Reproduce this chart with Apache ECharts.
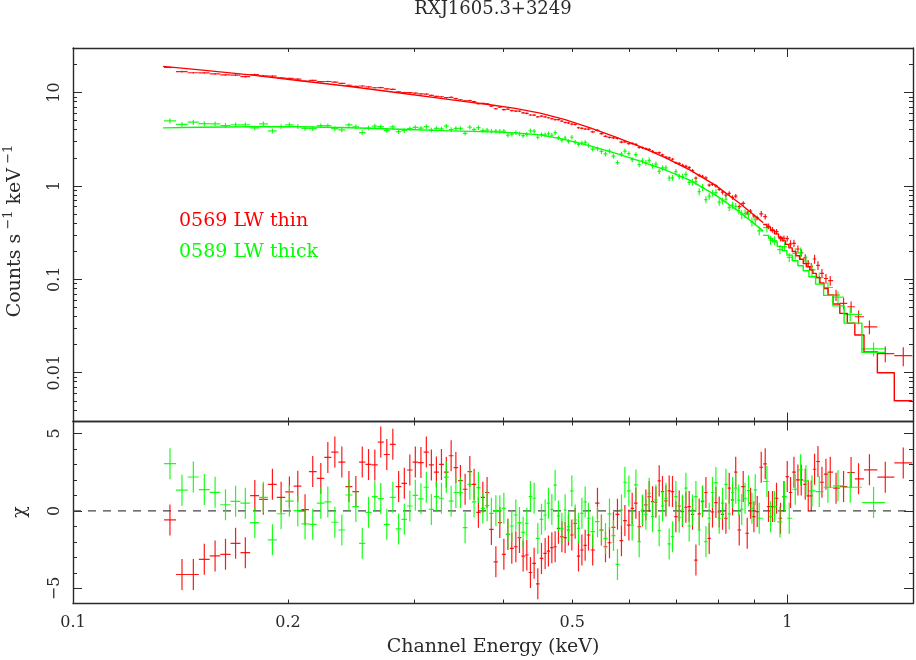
<!DOCTYPE html>
<html><head><meta charset="utf-8">
<script src="https://cdn.jsdelivr.net/npm/echarts@6/dist/echarts.min.js"></script>
<style>html,body{margin:0;padding:0;background:#fff}#c{width:916px;height:660px}</style>
</head><body><div id="c"></div>
<script>
// ---------- DATA ----------
// bin centres (keV) shared by both spectra
const sharedE = [
0.1367,0.1421,0.1474,0.1527,0.1581,0.1635,0.1689,0.1743,0.1797,0.1847,
0.1902,0.1956,0.2009,0.2064,0.2113,0.2166,0.2223,0.2274,0.2326,0.2379,
0.2434,0.2489,0.2541,0.2593,0.2646,0.2697,0.2750,0.2804,0.2857,0.2910,
0.2962,0.3015,0.3070,0.3124,0.3175,0.3227,0.3280,0.3332,0.3384,0.3436,
0.3487,0.3540,0.3594,0.3644,0.3695,0.3748,0.3800,0.3853,0.3909,0.3959,
0.4011,0.4063,0.4115,0.4169,0.4218,0.4268,0.4319,0.4370,0.4422,0.4475,
0.4528,0.4582,0.4631,0.4682,0.4732,0.4783,0.4836,0.4887,0.4940,0.4994,
0.5048,0.5102,0.5158,0.5213,0.5269,0.5341,0.5424,0.5494,0.5566,0.5638,
0.5711,0.5785,0.5860,0.5925,0.6002,0.6066,0.6139,0.6205,0.6271,0.6340,
0.6408,0.6477,0.6548,0.6618,0.6689,0.6763,0.6835,0.6908,0.6984,0.7059,
0.7134,0.7213,0.7290,0.7368,0.7450,0.7529,0.7610,0.7694,0.7776,0.7859,
0.7946,0.8031,0.8117,0.8206,0.8294,0.8383,0.8470];
const redExtraE = [0.8566,0.8677,0.8790,0.8884,0.8982,0.9078,0.9196,0.9315,0.9415,0.9537,
0.9661,0.9786,0.9894,1.0000,1.0107,1.0219,1.0351,1.0462,1.0598,1.0701,1.0805,1.0921,1.1041,
1.1184,1.1329,1.1487,1.1704,1.1991,1.2285,1.2585,1.3035,1.3718,1.4537];
const greenExtraE = [0.8552,0.8635,0.8728,0.8827,0.8924,0.9020,0.9137,0.9366,0.9476,0.9599,
0.9767,0.9913,1.0065,1.0262,1.0439,1.0622,1.0830,1.1088,1.1402,1.1777,1.2253,1.3209];

// 0569 LW thin (red): counts s^-1 keV^-1, fractional errors, residuals (chi)
const redCts = [
18.55,16.74,16.30,16.21,15.86,15.50,15.36,14.81,15.57,15.11,
15.01,14.40,14.16,13.92,13.23,13.51,13.10,13.14,12.95,12.54,
11.97,11.63,11.76,11.49,11.25,11.31,10.93,10.84,10.15,9.99,
9.96,9.86,9.67,9.62,9.33,9.10,9.02,8.81,8.88,8.63,
8.37,8.16,8.22,7.99,7.61,7.64,7.59,7.14,6.71,6.96,
6.56,6.63,6.41,6.32,6.31,6.06,5.98,5.75,5.74,5.50,
5.60,5.48,5.37,5.25,5.13,5.13,4.95,4.78,4.73,4.58,
4.55,4.20,4.14,4.07,4.05,3.80,3.94,3.63,3.40,3.31,
3.27,3.22,2.95,2.97,2.84,2.85,2.78,2.58,2.57,2.51,
2.46,2.35,2.26,2.27,2.15,2.03,2.00,1.93,1.77,1.74,
1.66,1.62,1.57,1.46,1.21,1.30,1.27,1.22,1.02,1.04,
1.00,0.92,0.858,0.795,0.831,0.753,0.778,0.599,0.649,0.512,
0.537,0.478,0.455,0.503,0.469,0.369,0.339,0.324,0.273,0.275,
0.273,0.240,0.243,0.211,0.193,0.170,0.148,0.137,0.165,0.141,
0.116,0.102,0.097,0.0679,0.0553,0.0508,0.0397,0.031,0.016,0.0152];
const redRel = [
0.02,0.02,0.02,0.02,0.02,0.02,0.02,0.02,0.02,0.02,
0.02,0.02,0.02,0.02,0.018,0.018,0.018,0.018,0.018,0.018,
0.018,0.018,0.018,0.018,0.018,0.018,0.018,0.018,0.018,0.018,
0.018,0.018,0.018,0.018,0.018,0.018,0.018,0.018,0.02,0.02,
0.02,0.02,0.02,0.02,0.02,0.02,0.02,0.02,0.02,0.02,
0.02,0.02,0.02,0.02,0.02,0.02,0.02,0.02,0.02,0.02,
0.02,0.02,0.02,0.02,0.02,0.02,0.02,0.025,0.025,0.025,
0.025,0.025,0.025,0.025,0.025,0.025,0.025,0.025,0.025,0.025,
0.025,0.025,0.03,0.03,0.03,0.03,0.03,0.03,0.03,0.03,
0.03,0.03,0.03,0.03,0.03,0.03,0.03,0.03,0.03,0.03,
0.04,0.04,0.04,0.04,0.04,0.04,0.04,0.04,0.04,0.04,
0.04,0.04,0.055,0.055,0.055,0.055,0.055,0.055,0.055,0.055,
0.055,0.055,0.055,0.07,0.07,0.07,0.07,0.07,0.07,0.07,
0.07,0.09,0.09,0.09,0.09,0.09,0.09,0.09,0.11,0.11,
0.11,0.12,0.12,0.14,0.14,0.14,0.17,0.17,0.19,0.23];
const redChi = [
-0.58,-4.1,-4.1,-3.12,-2.9,-2.8,-2.09,-2.69,0.99,0.75,
1.72,0.88,1.23,1.6,0.08,2.54,2.1,3.45,3.8,3.15,
1.57,1.25,3.15,3.0,2.97,4.44,3.64,4.3,1.57,1.78,
2.64,3.15,3.12,3.8,2.97,2.51,3.0,2.5,3.56,2.8,
1.96,1.4,2.54,1.72,-0.09,0.88,1.19,-1.19,-3.28,-0.75,
-2.8,-1.51,-2.41,-2.31,-1.72,-2.91,-2.84,-3.97,-3.38,-4.7,
-3.06,-2.74,-2.59,-2.37,-2.31,-1.12,-1.66,-1.72,-1.23,-1.55,
-0.8,-2.91,-2.52,-2.22,-1.55,-2.52,0.5,-1.23,-2.31,-2.05,
-1.06,-0.22,-1.92,-0.62,-0.91,0.17,0.5,-1.01,0,0.39,
0.93,0.6,0.56,1.94,1.25,0.65,1.29,1.25,-0.37,0.32,
-0.04,0.24,0.28,-0.22,-3.17,-0.19,0.6,1.19,-1.77,-0.06,
0.54,-0.06,-0.22,-0.47,1.47,0.71,2.5,-1.23,1.57,-1.44,
0.5,-0.37,-0.04,2.82,3.04,0.28,0.28,0.82,-0.47,0.93,
2.22,1.19,2.5,2.0,2.0,1.72,0.97,0.97,2.69,3.19,
1.85,2.37,2.5,1.47,1.57,2.48,2.07,2.65,2.18,3.1];
// red model: smooth part (keV, counts) and binned part (last bins)
const redModelE = [0.1337,0.1506,0.1770,0.2080,0.2443,0.2871,0.3373,0.3837,0.4160,0.4509,
0.4887,0.5298,0.5742,0.6225,0.6748,0.7314,0.7928,0.8594,0.9256];
const redModelC = [19.09,17.51,15.48,13.40,11.59,9.88,8.41,7.40,6.77,6.02,
5.13,4.18,3.35,2.634,2.008,1.475,1.019,0.645,0.4027];
const redModelBins = [0.3867,0.3618,0.3327,0.3066,0.2819,0.2580,0.2366,0.2171,0.1986,0.1786,
0.1638,0.1476,0.1365,0.1261,0.1156,0.1045,0.0913,0.0797,0.0679,0.0543,0.0432,0.0338,0.0253,0.0167,0.0100,0.0050];

// 0589 LW thick (green)
const greenCts = [
4.97,4.57,4.82,4.64,4.62,4.44,4.52,4.52,4.19,4.61,
3.88,4.31,4.51,4.33,4.12,4.11,4.42,4.42,4.11,3.98,
4.50,4.30,3.73,4.17,4.38,4.32,3.92,4.29,3.81,3.93,
4.10,4.23,4.16,4.31,3.97,4.14,4.09,4.37,4.02,4.14,
4.14,3.66,4.25,4.01,4.21,3.92,3.96,3.85,3.87,3.85,
3.86,3.49,3.59,3.72,3.60,3.46,3.56,3.90,3.86,3.32,
3.54,3.53,3.62,3.49,3.72,3.29,3.09,3.26,3.00,3.32,
2.94,2.79,2.88,2.93,2.71,2.48,2.50,2.34,2.20,2.36,
2.09,1.78,2.19,2.36,2.22,1.91,2.16,1.69,1.86,1.77,
1.88,1.64,1.71,1.43,1.56,1.56,1.21,1.22,1.42,1.26,
1.26,1.33,1.09,1.10,1.11,0.868,0.964,0.715,0.778,0.841,
0.850,0.670,0.691,0.720,0.587,0.623,0.605,
0.543,0.495,0.506,0.498,0.413,0.435,0.330,0.357,0.263,0.260,0.208,0.224,0.172,
0.189,0.192,0.157,0.126,0.104,0.0817,0.0645,0.0422,0.0180];
const greenRel = [
0.06,0.06,0.06,0.06,0.06,0.06,0.06,0.06,0.06,0.06,
0.06,0.06,0.06,0.06,0.055,0.055,0.055,0.055,0.055,0.055,
0.055,0.055,0.055,0.055,0.055,0.055,0.055,0.055,0.055,0.055,
0.055,0.055,0.055,0.055,0.055,0.055,0.055,0.055,0.055,0.055,
0.055,0.055,0.055,0.055,0.055,0.055,0.055,0.055,0.055,0.055,
0.055,0.055,0.055,0.055,0.055,0.055,0.055,0.055,0.055,0.055,
0.055,0.055,0.055,0.055,0.055,0.055,0.055,0.055,0.055,0.055,
0.055,0.055,0.055,0.055,0.055,0.06,0.06,0.06,0.06,0.06,
0.06,0.06,0.06,0.06,0.06,0.06,0.06,0.06,0.07,0.07,
0.07,0.07,0.07,0.07,0.07,0.07,0.07,0.07,0.07,0.07,
0.07,0.07,0.07,0.085,0.085,0.085,0.085,0.085,0.085,0.085,
0.085,0.085,0.085,0.085,0.085,0.085,0.085,0.085,0.11,0.11,
0.11,0.11,0.11,0.11,0.11,0.11,0.11,0.11,0.11,0.11,
0.14,0.14,0.14,0.14,0.14,0.14,0.15,0.16,0.17];
const greenChi = [
3.05,1.34,2.19,1.38,1.2,0.4,0.62,0.5,-0.75,0.88,
-1.86,-0.18,0.64,0.02,-0.84,-0.86,0.5,0.58,-0.73,-1.23,
1.03,0.28,-2.09,-0.09,0.93,0.8,-0.86,0.88,-1.16,-0.54,
0.32,1.01,0.78,1.53,0.1,0.93,0.82,2.18,0.63,1.19,
1.19,-1.08,1.72,0.58,1.51,0.17,0.34,-0.15,0.02,0.02,
0.17,-1.51,-0.97,-0.26,-0.75,-1.38,-0.8,0.93,0.82,-1.77,
-0.54,-0.26,0.5,0.1,1.66,-0.32,-1.12,0.06,-1.01,1.29,
-0.58,-1.12,-0.15,0.58,-0.47,-1.34,-0.69,-1.23,-1.77,-0.19,
-1.59,-3.45,0.06,1.85,1.29,-0.91,1.68,-1.98,0.06,-0.22,
1.14,-0.37,0.71,-1.27,0.32,0.82,-2.13,-1.66,0.93,-0.41,
0.06,1.47,-0.97,0.06,0.93,-1.23,0.65,-1.98,-0.47,1.19,
1.83,-0.47,0.5,1.72,-0.19,1.19,1.47,
0.7,0.1,0.82,1.31,0.17,1.36,-0.47,1.9,-0.37,0.28,-0.71,0.93,-0.47,
1.4,2.65,1.94,1.29,1.25,1.53,1.62,1.53,0.54];
const greenModelE = [0.1337,0.1506,0.1770,0.2080,0.2443,0.2871,0.3373,0.3837,0.4160,0.4509,
0.4887,0.5298,0.5742,0.6225,0.6748,0.7314,0.7928,0.8594,0.9251];
const greenModelC = [4.184,4.246,4.309,4.298,4.205,4.052,3.886,3.792,3.700,3.52,
3.128,2.684,2.242,1.845,1.484,1.145,0.801,0.520,0.3302];
const greenModelBins = [0.2954,0.2744,0.2522,0.2253,0.2030,0.1817,0.1582,0.1399,0.1234,0.1066,
0.0887,0.0673,0.0519,0.0339,0.0165];

// axes / ticks
const xRange = [0.1, 1.5];
const xMajor = [0.1, 1];
const xMinor = [0.2,0.3,0.4,0.5,0.6,0.7,0.8,0.9];
const xLabelVals = [0.1, 0.2, 0.5, 1];
const yRange = [0.003, 30];
const yMajor = [0.01, 0.1, 1, 10];
const yMinor = [0.004,0.005,0.006,0.007,0.008,0.009,0.02,0.03,0.04,0.05,0.06,0.07,0.08,0.09,
0.2,0.3,0.4,0.5,0.6,0.7,0.8,0.9,2,3,4,5,6,7,8,9,20];
const chiRange = [-5.97, 5.77];
const chiMajor = [-5, 0, 5];
const chiMinor = [-4,-3,-2,-1,1,2,3,4];
const labels = ['0569 LW thin', '0589 LW thick'];

// ---------- BUILD ----------
const redE = sharedE.concat(redExtraE);
const greenE = sharedE.concat(greenExtraE);
const RED = '#ff0000', GREEN = '#00ff00', INK = '#2a2a2a';
const FONT = '"DejaVu Serif", "Liberation Serif", serif';

function edges(E){
  const n = E.length, lo = [], hi = [];
  for (let i = 0; i < n; i++) {
    hi[i] = i < n-1 ? Math.sqrt(E[i]*E[i+1]) : E[i]*Math.sqrt(E[i]/E[i-1]);
    lo[i] = i > 0 ? Math.sqrt(E[i-1]*E[i]) : E[i]*Math.sqrt(E[i]/E[i+1]);
  }
  return {lo, hi};
}
function crossSeries(E, Y, err, color, xi, yi){
  const ed = edges(E);
  const data = E.map((e,i)=>[e, Y[i], ed.lo[i], ed.hi[i], err[i]]);
  return {
    type:'custom', xAxisIndex:xi, yAxisIndex:yi, data, silent:true, clip:true,
    encode:{x:0, y:1},
    renderItem(params, api){
      const e=api.value(0), y=api.value(1), lo=api.value(2), hi=api.value(3), s=api.value(4);
      const a=api.coord([lo,y]), b=api.coord([hi,y]);
      const c=api.coord([e,y-s]), d=api.coord([e,y+s]);
      const st={stroke:color, lineWidth:1.2, opacity:0.9};
      return {type:'group', children:[
        {type:'line', shape:{x1:a[0],y1:a[1],x2:b[0],y2:b[1]}, style:st},
        {type:'line', shape:{x1:c[0],y1:c[1],x2:d[0],y2:d[1]}, style:st}
      ]};
    }
  };
}
function stepPoints(E, binVals){
  const ed = edges(E), k = E.length - binVals.length, pts = [];
  binVals.forEach((v,j)=>{ pts.push([ed.lo[k+j], v], [ed.hi[k+j], v]); });
  return pts;
}
function lineSeries(data, color){
  return {type:'line', xAxisIndex:0, yAxisIndex:0, data, showSymbol:false, symbol:'none',
    smooth:false, silent:true, lineStyle:{color, width:1.4, join:'round'}, z:3};
}
const redErr = redCts.map((v,i)=>v*redRel[i]);
const greenErr = greenCts.map((v,i)=>v*greenRel[i]);
const ones = n => new Array(n).fill(1);

function axBase(type, grid, pos, range, vals, len, extra){
  return Object.assign({
    type, gridIndex:grid, position:pos, min:range[0], max:range[1],
    axisLine:{show:false, onZero:false}, splitLine:{show:false}, minorTick:{show:false},
    axisTick:{show:true, inside:true, length:len, customValues:vals, lineStyle:{color:INK, width:1}},
    axisLabel:{show:false}
  }, extra||{});
}
const frame = {show:true, onZero:false, lineStyle:{color:INK, width:1.4}};
const xAxes = [
  axBase('log',0,'bottom',xRange,xMajor,9,{axisLine:frame}),
  axBase('log',0,'bottom',xRange,xMinor,4),
  axBase('log',0,'top',xRange,xMajor,9,{axisLine:frame}),
  axBase('log',0,'top',xRange,xMinor,4),
  axBase('log',1,'bottom',xRange,xMajor,9,{axisLine:frame,
    axisLabel:{show:true, customValues:xLabelVals, margin:11, color:INK, fontSize:16, fontFamily:FONT,
      formatter:v=>String(+(+v).toPrecision(3))}}),
  axBase('log',1,'bottom',xRange,xMinor,4),
  axBase('log',1,'top',xRange,xMajor,9,{axisLine:frame}),
  axBase('log',1,'top',xRange,xMinor,4)
];
const yAxes = [
  axBase('log',0,'left',yRange,yMajor,9,{axisLine:frame,
    axisLabel:{show:true, customValues:yMajor, rotate:90, margin:10, color:INK, fontSize:16, fontFamily:FONT,
      formatter:v=>String(+(+v).toPrecision(3))}}),
  axBase('log',0,'left',yRange,yMinor,4),
  axBase('log',0,'right',yRange,yMajor,9,{axisLine:frame}),
  axBase('log',0,'right',yRange,yMinor,4),
  axBase('value',1,'left',chiRange,chiMajor,9,{axisLine:frame,
    axisLabel:{show:true, customValues:chiMajor, rotate:90, margin:10, color:INK, fontSize:16, fontFamily:FONT,
      formatter:v=>(v<0?'\u2212'+(-v):String(v))}}),
  axBase('value',1,'left',chiRange,chiMinor,4),
  axBase('value',1,'right',chiRange,chiMajor,9,{axisLine:frame}),
  axBase('value',1,'right',chiRange,chiMinor,4)
];

const series = [
  {type:'line', xAxisIndex:4, yAxisIndex:4, data:[[xRange[0],0],[xRange[1],0]], showSymbol:false, symbol:'none',
   silent:true, lineStyle:{color:'#444', width:1.2, type:[8,7]}, z:1},
  crossSeries(redE, redCts, redErr, RED, 0, 0),
  lineSeries(redModelE.map((e,i)=>[e, redModelC[i]]), RED),
  lineSeries(stepPoints(redE, redModelBins), RED),
  crossSeries(redE, redChi, ones(redE.length), RED, 4, 4),
  crossSeries(greenE, greenCts, greenErr, GREEN, 0, 0),
  lineSeries(greenModelE.map((e,i)=>[e, greenModelC[i]]), GREEN),
  lineSeries(stepPoints(greenE, greenModelBins), GREEN),
  crossSeries(greenE, greenChi, ones(greenE.length), GREEN, 4, 4)
];

const chart = echarts.init(document.getElementById('c'), null, {renderer:'canvas'});
chart.setOption({
  animation:false,
  backgroundColor:'#ffffff',
  grid:[
    {left:73, top:48, width:840, height:373.5, outerBoundsMode:'none', containLabel:false},
    {left:73, top:421.5, width:840, height:182, outerBoundsMode:'none', containLabel:false}
  ],
  xAxis:xAxes,
  yAxis:yAxes,
  series,
  graphic:[
    {type:'text', x:493, y:9, silent:true, style:{text:'RXJ1605.3+3249', fontSize:18, fontFamily:FONT, fill:INK, align:'center', verticalAlign:'middle'}},
    {type:'text', x:493, y:647, silent:true, style:{text:'Channel Energy (keV)', fontSize:19, fontFamily:FONT, fill:INK, align:'center', verticalAlign:'middle'}},
    {type:'text', x:15, y:231, rotation:Math.PI/2, silent:true, style:{
      text:'{a|Counts s}{s| \u22121}{a| keV}{s| \u22121}', align:'center', verticalAlign:'middle', fill:INK,
      rich:{a:{fontSize:19, fontFamily:FONT, fill:INK, lineHeight:26}, s:{fontSize:13, fontFamily:FONT, fill:INK, lineHeight:14, verticalAlign:'top'}}}},
    {type:'text', x:20, y:512, rotation:Math.PI/2, silent:true, style:{text:'\u03c7', fontSize:19, fontFamily:FONT, fill:INK, align:'center', verticalAlign:'middle'}},
    {type:'text', x:179, y:221, silent:true, style:{text:labels[0], fontSize:19, fontFamily:FONT, fill:RED, align:'left', verticalAlign:'middle'}},
    {type:'text', x:179, y:252, silent:true, style:{text:labels[1], fontSize:19, fontFamily:FONT, fill:GREEN, align:'left', verticalAlign:'middle'}}
  ]
});
</script></body></html>
